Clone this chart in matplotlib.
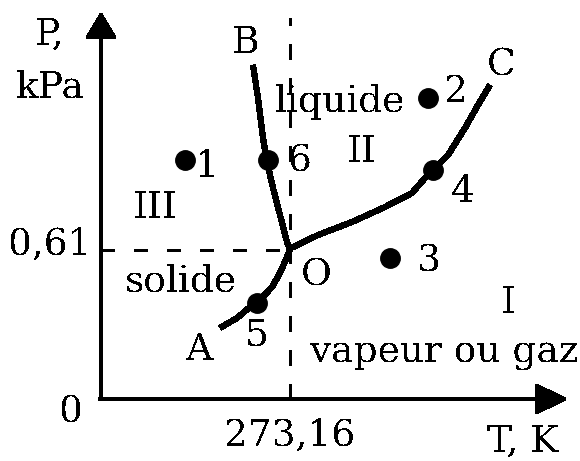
import numpy as np
import matplotlib
matplotlib.use("Agg")
import matplotlib.pyplot as plt

# schematic phase diagram of water (units: schematic, origin at axes crossing)
plt.rcParams['font.family'] = ['DejaVu Serif']
plt.rcParams['lines.antialiased'] = False
plt.rcParams['patch.antialiased'] = False
plt.rcParams['text.antialiased'] = False
plt.rcParams['lines.scale_dashes'] = False

# triple point O
T_tp, P_tp = 189, 149

# curves (T, P)
OB_T = [152, 157, 162, 166, 172, 179, 186, 189]        # fusion
OB_P = [334, 301, 261, 237, 211, 184, 157, 149]
OA_T = [119, 136, 149, 159, 171, 179, 186, 189]        # sublimation
OA_P = [71, 81, 92, 99, 112, 126, 142, 150]
OC_T = [188, 217, 251, 284, 311, 324, 332, 347, 364, 377, 389]  # vaporisation
OC_P = [150, 164, 177, 192, 206, 221, 229, 244, 271, 294, 314]

# numbered states
pts_T = [84, 327, 289, 332, 156, 167]
pts_P = [239, 301, 141, 229, 96, 239]

fig = plt.figure(figsize=(5.8, 4.61), dpi=100)
ax = fig.add_axes([0, 0, 1, 1])
ax.set_xlim(-101, 479)
ax.set_ylim(-62, 399)
ax.axis('off')

# axes with arrows
ax.annotate('', xy=(0, 387), xytext=(0, 0),
            arrowprops=dict(arrowstyle='-|>,head_length=1.6,head_width=0.95',
                            mutation_scale=10, lw=2.2, color='k',
                            shrinkA=0, shrinkB=0))
ax.annotate('', xy=(467, 0), xytext=(-1, 0),
            arrowprops=dict(arrowstyle='-|>,head_length=2.0,head_width=0.95',
                            mutation_scale=10, lw=2.2, color='k',
                            shrinkA=0, shrinkB=0))

# dashed guides
ax.plot([T_tp, T_tp], [0, 381], color='k', lw=1.8, dashes=(11, 13))
ax.plot([0, T_tp], [P_tp, P_tp], color='k', lw=1.8, dashes=(10, 14))

# phase boundaries
for T, P in [(OB_T, OB_P), (OA_T, OA_P), (OC_T, OC_P)]:
    ax.plot(T, P, color='k', lw=3.8, solid_capstyle='butt',
            solid_joinstyle='round')

ax.plot(pts_T, pts_P, 'o', color='k', ms=14)

fs = 27
labels = [
    ('P,', -66, 354, 'left'), ('kPa', -51, 302, 'center'),
    ('B', 145, 346, 'center'), ('liquide', 239, 287, 'center'),
    ('2', 355, 297, 'center'), ('C', 400, 324, 'center'),
    ('II', 261, 237, 'center'), ('6', 199, 227, 'center'),
    ('4', 362, 197, 'center'), ('1', 106, 222, 'center'),
    ('III', 54, 181, 'center'), ('0,61', -9, 144, 'right'),
    ('solide', 80, 107, 'center'), ('5', 156, 54, 'center'),
    ('A', 99, 39, 'center'), ('0', -30, -23, 'center'),
    ('273,16', 189, -47, 'center'), ('T, K', 422, -53, 'center'),
    ('O', 215, 114, 'center'), ('3', 328, 127, 'center'),
    ('I', 407, 86, 'center'), ('vapeur ou gaz', 343, 37, 'center'),
]
for s, x, y, ha in labels:
    ax.text(x, y, s, fontsize=fs, ha=ha, va='baseline')

fig.savefig('out.png', dpi=100)
